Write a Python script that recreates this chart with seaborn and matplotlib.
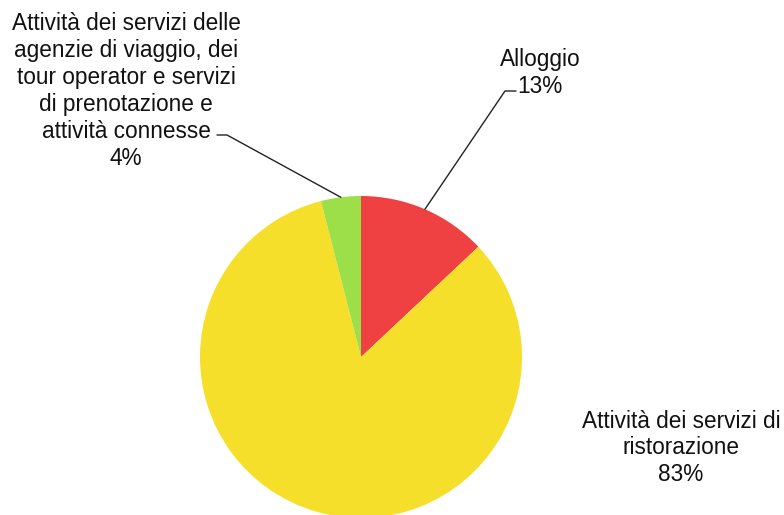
import numpy as np
import matplotlib
matplotlib.use("Agg")
import matplotlib.pyplot as plt
import seaborn as sns

sns.set_theme(style="white")
plt.rcParams["font.family"] = ["Liberation Sans", "DejaVu Sans"]

categories = [
    "Alloggio",
    "Attività dei servizi di\nristorazione",
    "Attività dei servizi delle\nagenzie di viaggio, dei\ntour operator e servizi\ndi prenotazione e\nattività connesse",
]
shares = [13, 83, 4]
colors = ["#EF4141", "#F6DF2A", "#9CDF48"]

W, H = 784, 515
fig = plt.figure(figsize=(W / 100, H / 100), dpi=100)
ax = fig.add_axes([0, 0, 1, 1])

cx, cy, r = 361, 158, 161
wedges, _ = ax.pie(shares, colors=colors, startangle=90, counterclock=False,
                   center=(cx, cy), radius=r, frame=True,
                   wedgeprops=dict(linewidth=0, antialiased=True))
ax.set_xlim(0, W)
ax.set_ylim(0, H)
ax.set_aspect("equal")
ax.axis("off")

fs = 16.3
labels = [f"{c}\n{s}%" for c, s in zip(categories, shares)]

def edge_point(w):
    mid = np.deg2rad((w.theta1 + w.theta2) / 2)
    return cx + r * np.cos(mid), cy + r * np.sin(mid)

# Alloggio
ax.text(540, H - 73, labels[0], ha="center", va="center", fontsize=fs,
        linespacing=1.24, color="#111111")
ex, ey = edge_point(wedges[0])
ax.plot([516, 505, ex], [H - 91, H - 91, ey], color="#222222", lw=1)

# Ristorazione
ax.text(681, H - 448, labels[1], ha="center", va="center", fontsize=fs,
        linespacing=1.22, color="#111111")

# Agenzie di viaggio
ax.text(126, H - 91, labels[2], ha="center", va="center", fontsize=fs,
        linespacing=1.22, color="#111111")
ex, ey = edge_point(wedges[2])
ax.plot([217, 227, ex], [H - 135, H - 135, ey], color="#222222", lw=1)

fig.savefig("out.png", dpi=100, facecolor="white")
